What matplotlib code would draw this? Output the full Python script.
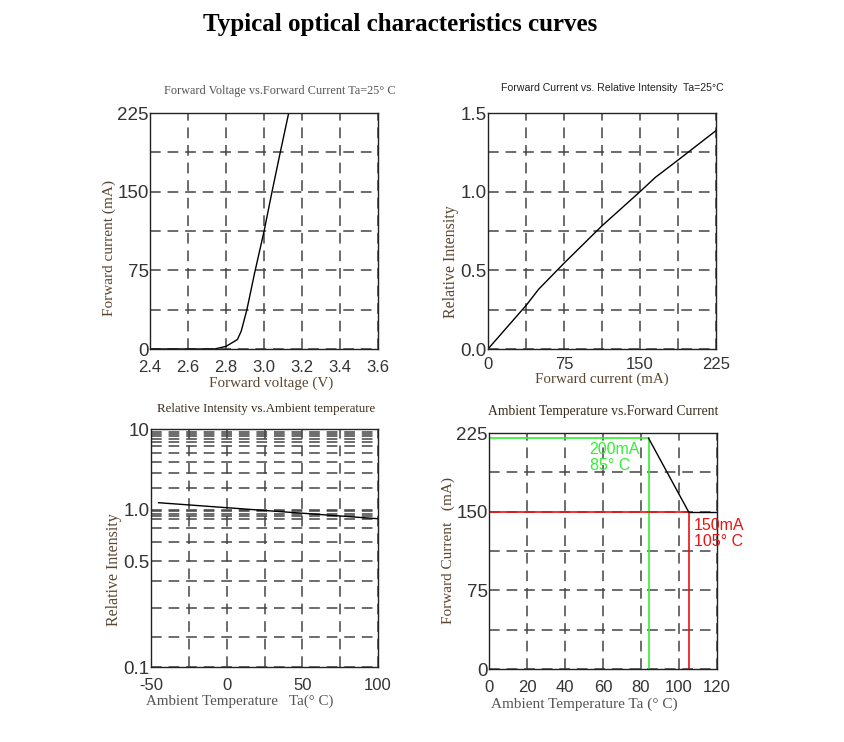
import numpy as np
import matplotlib
matplotlib.use("Agg")
import matplotlib.pyplot as plt

plt.rcParams["axes.unicode_minus"] = False

# forward voltage vs forward current
vf_volt = [2.40, 2.60, 2.74, 2.80, 2.86, 2.88, 2.91, 2.95, 3.00, 3.04, 3.085, 3.13]
vf_curr = [0, 0, 0, 2.5, 9, 17, 37.5, 72, 112, 148, 187, 225]

# forward current vs relative intensity
if_curr = [0, 38, 50, 75, 112, 150, 165, 188, 225]
if_rel = [0, 0.28, 0.38, 0.545, 0.78, 1.0, 1.09, 1.203, 1.388]

# relative intensity vs ambient temperature
ta_temp = [-45, 18, 100]
ta_rel = [1.22, 1.0, 0.885]

# derating curve
der_temp = [84, 105]
der_curr = [220, 150]
max_curr = 220
max_temp = 84
lim_curr = 150
lim_temp = 105

grid_kw = dict(color="#444444", linestyle=(0, (7, 4.5)), linewidth=1.1)
lab_color = "#5b4630"
tick_font = "Liberation Sans"
serif = "Liberation Serif"

fig = plt.figure(figsize=(8.44, 7.42), dpi=100)
W, H = 844.0, 742.0


def add_axes(l, r, t, b):
    return fig.add_axes([l / W, 1 - b / H, (r - l) / W, (b - t) / H])


def style(ax, xpad=7):
    for s in ax.spines.values():
        s.set_color("#222222")
        s.set_linewidth(1.0)
    ax.tick_params(which="both", length=0, colors="#333333")
    ax.tick_params(axis="y", labelsize=13.5, pad=1)
    ax.tick_params(axis="x", labelsize=12, pad=xpad)
    for lab in ax.get_xticklabels() + ax.get_yticklabels():
        lab.set_fontfamily(tick_font)
    ax.grid(which="both", **grid_kw)
    ax.set_axisbelow(True)


fig.text(400 / W, 1 - 24 / H, "Typical optical characteristics curves",
         ha="center", va="center", fontsize=18, fontweight="bold",
         family=serif, color="black")

# ---- plot 1
ax1 = add_axes(150, 378, 113, 349)
ax1.plot(vf_volt, vf_curr, color="black", lw=1.0)
ax1.set_xlim(2.4, 3.6)
ax1.set_ylim(0, 225)
ax1.set_xticks([2.4, 2.6, 2.8, 3.0, 3.2, 3.4, 3.6])
ax1.set_xticklabels(["2.4", "2.6", "2.8", "3.0", "3.2", "3.4", "3.6"])
ax1.set_yticks([0, 75, 150, 225])
ax1.set_yticks([37.5, 112.5, 187.5], minor=True)
style(ax1, xpad=8)
ax1.set_title("Forward Voltage vs.Forward Current Ta=25\u00b0 C", family=serif,
              fontsize=8.8, color="#555555", pad=14, x=0.57)
ax1.set_xlabel("Forward voltage (V)", family=serif, fontsize=10.9, color=lab_color,
               labelpad=1, x=0.53)
ax1.set_ylabel("Forward current (mA)", family=serif, fontsize=11, color=lab_color,
               labelpad=1, y=0.43)

# ---- plot 2
ax2 = add_axes(488, 716, 113, 349)
ax2.plot(if_curr, if_rel, color="black", lw=1.0)
ax2.set_xlim(0, 225)
ax2.set_ylim(0, 1.5)
ax2.set_xticks([0, 75, 150, 225])
ax2.set_xticks([37.5, 112.5, 187.5], minor=True)
ax2.set_yticks([0, 0.5, 1.0, 1.5])
ax2.set_yticklabels(["0.0", "0.5", "1.0", "1.5"])
ax2.set_yticks([0.25, 0.75, 1.25], minor=True)
style(ax2, xpad=6)
ax2.set_title("Forward Current vs. Relative Intensity  Ta=25\u00b0C", family=tick_font,
              fontsize=7.6, color="#222222", pad=16, x=0.544)
ax2.set_xlabel("Forward current (mA)", family=serif, fontsize=10.8, color=lab_color, labelpad=0)
ax2.set_ylabel("Relative Intensity", family=serif, fontsize=11.5, color=lab_color,
               labelpad=1, y=0.37)

# ---- plot 3 (irregular log-like axis as in the original sheet)
anch_log = [-1.0, np.log10(0.5), 0.0, 1.0]
anch_pos = [0.0, 105.0, 156.0, 236.0]


def fwd(v):
    v = np.asarray(v, dtype=float)
    return np.interp(np.log10(np.clip(v, 1e-9, None)), anch_log, anch_pos)


def inv(p):
    p = np.asarray(p, dtype=float)
    return 10 ** np.interp(p, anch_pos, anch_log)


rel_grid = [0.157, 0.244, 0.368, 0.644, 0.78, 0.881, 0.913, 0.947, 0.977,
            1.87, 2.87, 3.95, 5.11, 6.08, 6.94, 7.5, 8.1, 8.66, 9.25]

ax3 = add_axes(151, 378, 429, 667)
ax3.set_yscale("function", functions=(fwd, inv))
ax3.plot(ta_temp, ta_rel, color="black", lw=1.0)
ax3.set_xlim(-50, 100)
ax3.set_ylim(0.1, 10)
ax3.set_xticks([-50, 0, 50, 100])
ax3.set_xticks([-25, 25, 75], minor=True)
ax3.set_yticks([0.1, 0.5, 1.0, 10])
ax3.set_yticklabels(["0.1", "0.5", "1.0", "10"])
ax3.set_yticks(rel_grid, minor=True)
ax3.yaxis.set_minor_formatter(matplotlib.ticker.NullFormatter())
style(ax3, xpad=8)
ax3.set_title("Relative Intensity vs.Ambient temperature", family=serif,
              fontsize=9.3, color="#3a2c1c", pad=12, x=0.509)
ax3.set_xlabel("Ambient Temperature   Ta(\u00b0 C)", family=serif, fontsize=10.8,
               color="#555555", labelpad=1, x=0.39)
ax3.set_ylabel("Relative Intensity", family=serif, fontsize=11.5, color=lab_color,
               labelpad=1, y=0.41)

# ---- plot 4
ax4 = add_axes(489, 717, 433, 669)
green = "#33ee33"
red = "#ee1111"
ax4.plot([0, max_temp], [max_curr, max_curr], color=green, lw=1.2)
ax4.plot([max_temp, max_temp], [0, max_curr], color=green, lw=1.2)
ax4.plot([0, lim_temp], [lim_curr, lim_curr], color=red, lw=1.2)
ax4.plot([lim_temp, lim_temp], [0, lim_curr], color=red, lw=1.2)
ax4.plot(der_temp, der_curr, color="black", lw=1.0)
ax4.plot([lim_temp, 120], [lim_curr, lim_curr], color="black", lw=1.0)
ax4.text(53, 216, "200mA\n85\u00b0 C", color=green, fontsize=11.5, family=tick_font,
         linespacing=1.05, va="top")
ax4.text(108, 144, "150mA\n105\u00b0 C", color=red, fontsize=11.5, family=tick_font,
         linespacing=1.05, va="top")
ax4.set_xlim(0, 120)
ax4.set_ylim(0, 225)
ax4.set_xticks([0, 20, 40, 60, 80, 100, 120])
ax4.set_yticks([0, 75, 150, 225])
ax4.set_yticks([37.5, 112.5, 187.5], minor=True)
style(ax4, xpad=8)
ax4.set_title("Ambient Temperature vs.Forward Current", family=serif,
              fontsize=9.8, color="#3a2c1c", pad=13, x=0.502)
ax4.set_xlabel("Ambient Temperature Ta (\u00b0 C)", family=serif, fontsize=11,
               color="#555555", labelpad=2, x=0.417)
ax4.set_ylabel("Forward Current   (mA)", family=serif, fontsize=11, color=lab_color,
               labelpad=1)

fig.savefig("out.png", dpi=100)
